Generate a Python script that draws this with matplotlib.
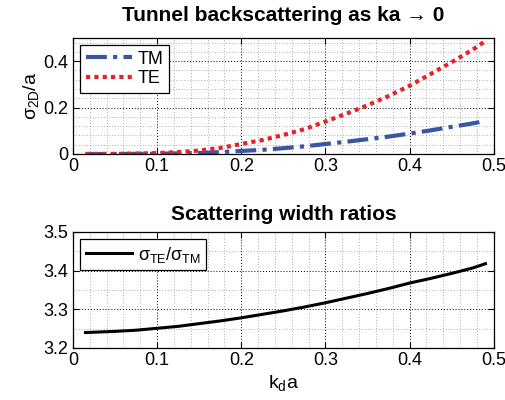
import numpy as np
import matplotlib
matplotlib.use("Agg")
import matplotlib.pyplot as plt
from matplotlib.ticker import MultipleLocator

plt.rcParams['font.family'] = ['Liberation Sans', 'DejaVu Sans']
plt.rcParams['mathtext.fontset'] = 'custom'
plt.rcParams['mathtext.rm'] = 'Liberation Sans'
plt.rcParams['mathtext.it'] = 'Liberation Sans'
plt.rcParams['mathtext.bf'] = 'Liberation Sans:bold'

# Data
kd_a = [0.015, 0.05, 0.075, 0.1, 0.125, 0.15, 0.175, 0.2, 0.225, 0.25, 0.275,
        0.3, 0.325, 0.35, 0.375, 0.4, 0.425, 0.45, 0.475, 0.49]
sigma_TE = [0.0, 0.0004, 0.0015, 0.004, 0.008, 0.015, 0.026, 0.043, 0.060, 0.082, 0.107,
            0.140, 0.174, 0.210, 0.250, 0.294, 0.345, 0.396, 0.450, 0.487]
sigma_TM = [0.0, 0.0001, 0.0005, 0.0012, 0.0025, 0.0045, 0.008, 0.013, 0.018, 0.025, 0.033,
            0.043, 0.053, 0.064, 0.075, 0.088, 0.102, 0.117, 0.132, 0.142]
ratio = [3.240, 3.243, 3.246, 3.251, 3.256, 3.263, 3.270, 3.278, 3.287, 3.296, 3.306,
         3.317, 3.329, 3.341, 3.354, 3.368, 3.380, 3.393, 3.407, 3.418]

xticks = [0, 0.1, 0.2, 0.3, 0.4, 0.5]
xticklabels = ['0', '0.1', '0.2', '0.3', '0.4', '0.5']
yticks_top = [0, 0.2, 0.4]
yticklabels_top = ['0', '0.2', '0.4']
yticks_bot = [3.2, 3.3, 3.4, 3.5]
yticklabels_bot = ['3.2', '3.3', '3.4', '3.5']

fig = plt.figure(figsize=(5.06, 4.0), dpi=100)
ax1 = fig.add_axes([0.144, 0.615, 0.832, 0.29])
ax2 = fig.add_axes([0.144, 0.13, 0.832, 0.29])

blue = '#3a55a4'
red = '#e8202a'

ax1.plot(kd_a, sigma_TM, color=blue, lw=3, linestyle=(0, (5, 1.5, 1, 1.5)), label='TM')
ax1.plot(kd_a, sigma_TE, color=red, lw=3, linestyle=(0, (1, 1)), label='TE')
ax1.set_xlim(0, 0.5)
ax1.set_ylim(0, 0.5)
ax1.set_yticks(yticks_top)
ax1.set_yticklabels(yticklabels_top)
ax1.yaxis.set_minor_locator(MultipleLocator(0.04))
ax1.set_ylabel(r'$\sigma_{2D}$/a', fontsize=14, labelpad=2)
ax1.set_title('Tunnel backscattering as ka \u2192 0', fontsize=15, fontweight='bold', pad=12)

ax2.plot(kd_a, ratio, color='black', lw=2.2, label=r'$\sigma_{TE}/\sigma_{TM}$')
ax2.set_xlim(0, 0.5)
ax2.set_ylim(3.2, 3.5)
ax2.set_yticks(yticks_bot)
ax2.set_yticklabels(yticklabels_bot)
ax2.yaxis.set_minor_locator(MultipleLocator(0.05))
ax2.set_xlabel(r'k$_d$a', fontsize=14, labelpad=3)
ax2.set_title('Scattering width ratios', fontsize=15, fontweight='bold', pad=9)

for ax in (ax1, ax2):
    ax.set_xticks(xticks)
    ax.set_xticklabels(xticklabels)
    ax.xaxis.set_minor_locator(MultipleLocator(0.02))
    ax.grid(which='major', color='black', linestyle=(0, (1, 2)), lw=0.7)
    ax.grid(which='minor', color='#666666', linestyle=(0, (1, 3)), lw=0.5)
    ax.tick_params(which='major', direction='in', length=4, width=0.8, labelsize=13,
                   top=True, right=True, pad=3)
    ax.tick_params(which='minor', length=0)
    for s in ax.spines.values():
        s.set_linewidth(0.9)
    ax.set_axisbelow(True)

leg1 = ax1.legend(loc='upper left', fontsize=13, frameon=True, fancybox=False,
                  edgecolor='black', framealpha=1, handlelength=2.6, handletextpad=0.3,
                  borderpad=0.3, labelspacing=0.15, borderaxespad=0.4)
leg1.get_frame().set_linewidth(0.9)
leg2 = ax2.legend(loc='upper left', fontsize=13, frameon=True, fancybox=False,
                  edgecolor='black', framealpha=1, handlelength=2.6, handletextpad=0.3,
                  borderpad=0.3, borderaxespad=0.4)
leg2.get_frame().set_linewidth(0.9)

fig.savefig('out.png', dpi=100)
